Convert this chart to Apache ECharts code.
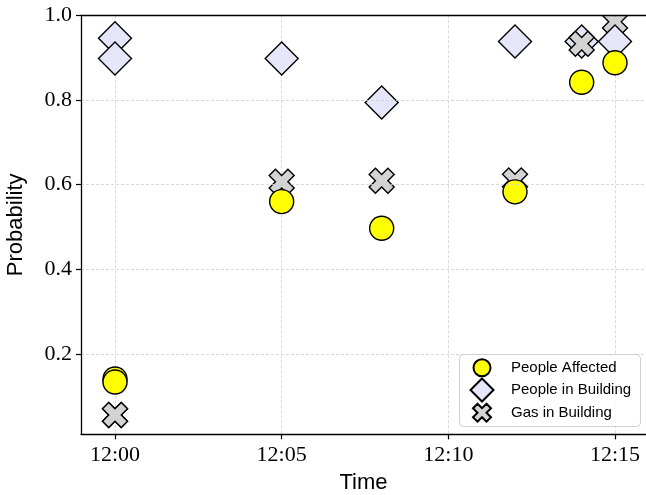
<!DOCTYPE html>
<html>
<head>
<meta charset="utf-8">
<script src="https://cdn.jsdelivr.net/npm/echarts@6/dist/echarts.min.js"></script>
<style>
html,body{margin:0;padding:0;background:#fff;}
#chart{width:646px;height:495px;}
</style>
</head>
<body>
<div id="chart"></div>
<script>
// ---- data ----
const times = ["12:00", "12:00", "12:05", "12:08", "12:12", "12:14", "12:15"];
const peopleAffected = [0.141, 0.134, 0.560, 0.497, 0.583, 0.842, 0.888];
const peopleInBuilding = [0.946, 0.898, 0.898, 0.794, 0.938, 0.938, 0.938];
const gasInBuilding = [0.056, 0.056, 0.607, 0.609, 0.610, 0.933, 0.985];
const xTickLabels = ["12:00", "12:05", "12:10", "12:15"];
const yTickValues = [0.2, 0.4, 0.6, 0.8, 1.0];
const seriesNames = ["People Affected", "People in Building", "Gas in Building"];

// ---- helpers ----
function toMin(s) { const p = s.split(':').map(Number); return (p[0] - 12) * 60 + p[1]; }
function fmtMin(v) { const m = Math.round(v); return '12:' + String(m).padStart(2, '0'); }
const xTicks = xTickLabels.map(toMin);
const pairs = arr => arr.map((v, i) => [toMin(times[i]), v]);

const X_PATH = 'path://M3,0 L4,1 L3,2 L4,3 L3,4 L2,3 L1,4 L0,3 L1,2 L0,1 L1,0 L2,1 Z';
const D_PATH = 'path://M1,0 L2,1 L1,2 L0,1 Z';

const serifFont = '"Liberation Serif", "DejaVu Serif", serif';
const sansFont = '"Liberation Sans", Arial, sans-serif';

const gasPairs = pairs(gasInBuilding);
const gasFront = gasPairs.filter((p, i) => times[i] !== "12:15");
const gasBack = gasPairs.filter((p, i) => times[i] === "12:15");

const border = { borderColor: '#000', borderWidth: 1.4 };

const chart = echarts.init(document.getElementById('chart'), null, { renderer: 'canvas' });

function legendAt(name, icon, size, cy) {
  return {
    data: [{ name: name, icon: icon }],
    left: 481 - size / 2,
    top: cy - size / 2,
    itemWidth: 48,
    itemHeight: size,
    padding: 0,
    symbolKeepAspect: true,
    textStyle: { fontFamily: sansFont, fontSize: 15, color: '#000' },
    z: 5
  };
}

const option = {
  animation: false,
  backgroundColor: '#fff',
  grid: { left: 81, right: 0, top: 15.3, bottom: 60.7, containLabel: false, outerBoundsMode: 'none' },
  xAxis: [{
    type: 'value',
    min: -1.02, max: 15.93,
    name: 'Time',
    nameLocation: 'middle',
    nameGap: 38,
    nameTextStyle: { fontFamily: sansFont, fontSize: 22, color: '#000' },
    axisLine: { show: true, onZero: false, lineStyle: { color: '#000', width: 1.3 } },
    axisTick: { show: true, customValues: xTicks, length: 5, inside: false, lineStyle: { color: '#000', width: 1.2 } },
    axisLabel: { customValues: xTicks, formatter: fmtMin, fontFamily: serifFont, fontSize: 22, color: '#000', margin: 10 },
    splitLine: { show: true, lineStyle: { color: '#cfcfcf', width: 0.8, type: [3, 2] } }
  }, {
    type: 'value',
    position: 'top',
    z: 10,
    min: -1.02, max: 15.93,
    axisLine: { show: true, onZero: false, lineStyle: { color: '#000', width: 1.3 } },
    axisTick: { show: false },
    axisLabel: { show: false },
    splitLine: { show: false }
  }],
  yAxis: {
    type: 'value',
    z: 10,
    min: 0.0104, max: 1.0,
    name: 'Probability',
    nameLocation: 'middle',
    nameGap: 54,
    nameRotate: 90,
    nameTextStyle: { fontFamily: sansFont, fontSize: 22, color: '#000' },
    axisLine: { show: true, onZero: false, lineStyle: { color: '#000', width: 1.3 } },
    axisTick: { show: true, customValues: yTickValues, length: 5, inside: false, lineStyle: { color: '#000', width: 1.2 } },
    axisLabel: { customValues: yTickValues, formatter: v => v.toFixed(1), fontFamily: serifFont, fontSize: 22, color: '#000', margin: 9 },
    splitLine: { show: true, lineStyle: { color: '#cfcfcf', width: 0.8, type: [3, 2] } }
  },
  legend: [
    legendAt(seriesNames[0], 'circle', 17, 366.7),
    legendAt(seriesNames[1], D_PATH, 23, 389),
    legendAt(seriesNames[2], X_PATH, 18, 411.7)
  ],
  graphic: [{
    type: 'rect',
    left: 459, top: 354,
    shape: { width: 181, height: 72, r: 4 },
    style: { fill: 'rgba(255,255,255,0.85)', stroke: '#d0d0d0', lineWidth: 1 },
    z: 3
  }, {
    // white mask above the plot area so markers are clipped at the top spine
    type: 'rect',
    left: 82, top: 0,
    shape: { width: 564, height: 15.2 },
    style: { fill: '#fff' },
    z: 6
  }],
  series: [
    {
      name: seriesNames[2], type: 'scatter', z: 1,
      symbol: X_PATH, symbolSize: 25,
      itemStyle: Object.assign({ color: '#d3d3d3', opacity: 1 }, border),
      data: gasBack
    },
    {
      name: seriesNames[1], type: 'scatter', z: 2,
      symbol: D_PATH, symbolSize: 33,
      itemStyle: Object.assign({ color: '#e6e6fa', opacity: 1 }, border),
      data: pairs(peopleInBuilding)
    },
    {
      name: seriesNames[2], type: 'scatter', z: 3,
      symbol: X_PATH, symbolSize: 25,
      itemStyle: Object.assign({ color: '#d3d3d3', opacity: 1 }, border),
      data: gasFront
    },
    {
      name: seriesNames[0], type: 'scatter', z: 4,
      symbol: 'circle', symbolSize: 24,
      itemStyle: Object.assign({ color: '#ffff00', opacity: 1 }, border),
      data: pairs(peopleAffected)
    }
  ]
};
chart.setOption(option);
</script>
</body>
</html>
